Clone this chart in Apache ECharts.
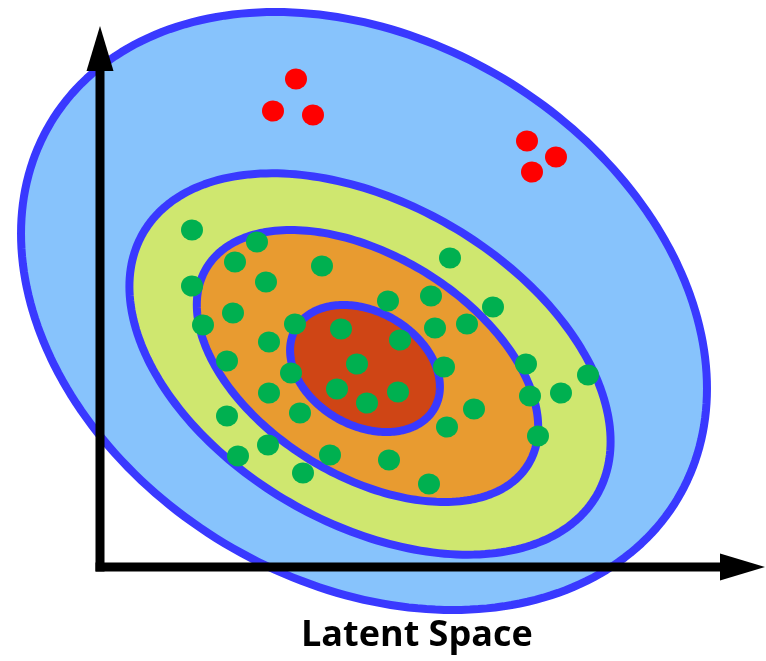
<!DOCTYPE html>
<html>
<head>
<meta charset="utf-8">
<script src="https://cdn.jsdelivr.net/npm/echarts@6/dist/echarts.min.js"></script>
<style>html,body{margin:0;padding:0;background:#fff;}#c{width:766px;height:661px;}</style>
</head>
<body>
<div id="c"></div>
<script>
// Nested density contours (latent-space coordinates, origin at the axes corner)
// outer -> inner
const contourNames = ['outer', 'second', 'third', 'inner'];
const contourCenters = [[264, 256], [270, 203], [267.5, 201], [265, 198.5]];
const contourSemiMajor = [365.5, 262, 188.5, 80];
const contourSemiMinor = [271, 160, 110, 57];
const contourTiltDeg = [-31, -30, -31.5, -30];
const contourFills = ['#87C3FC', '#CFE76F', '#E89B30', '#CF4515'];

// Points
const greenPoints = [[92,337],[157,325],[135,305],[222,301],[350,309],[92,281],[166,285],[288,266],[331,271],[393,260],[133,254],[103,242],[195,243],[241,238],[335,239],[367,243],[169,225],[300,227],[127,206],[257,203],[344,200],[191,194],[426,203],[488,192],[237,178],[169,174],[298,175],[461,174],[430,171],[267,164],[200,154],[374,158],[127,151],[347,140],[438,131],[168,122],[138,111],[230,112],[289,107],[203,94],[329,83]];
const redPoints = [[196,488],[173,456],[213,452],[427,426],[456,410],[432,395]];

// Axes arrows: [startX, startY, tipX, tipY]
const axisArrows = [[0,0,0,541],[0,0,665,0]];

const titleText = 'Latent Space';

const STROKE = '#3939FF';
const contourData = contourNames.map(function (n, i) {
  return [contourCenters[i][0], contourCenters[i][1], contourSemiMajor[i], contourSemiMinor[i], contourTiltDeg[i], i];
});

const chart = echarts.init(document.getElementById('c'), null, { renderer: 'canvas' });
chart.setOption({
  animation: false,
  backgroundColor: '#ffffff',
  title: {
    text: titleText,
    left: 296,
    top: 613,
    textStyle: { fontFamily: 'Open Sans', fontWeight: 'bold', fontSize: 36, color: '#000000' }
  },
  grid: { left: 0, right: 0, top: 0, bottom: 0 },
  xAxis: { type: 'value', min: -100, max: 666, show: false },
  yAxis: { type: 'value', min: -94, max: 567, show: false },
  series: [
    {
      type: 'custom', coordinateSystem: 'cartesian2d', data: contourData, z: 1, silent: true,
      renderItem: function (params, api) {
        const cx = api.value(0), cy = api.value(1), a = api.value(2), b = api.value(3);
        const t = api.value(4) * Math.PI / 180;
        const idx = api.value(5);
        const pts = [];
        const N = 240;
        for (let k = 0; k < N; k++) {
          const ang = 2 * Math.PI * k / N;
          const ex = a * Math.cos(ang), ey = b * Math.sin(ang);
          pts.push(api.coord([cx + ex * Math.cos(t) - ey * Math.sin(t), cy + ex * Math.sin(t) + ey * Math.cos(t)]));
        }
        return {
          type: 'polygon',
          z2: idx,
          shape: { points: pts },
          style: { fill: contourFills[idx], stroke: STROKE, lineWidth: 8, lineJoin: 'round' }
        };
      }
    },
    {
      type: 'scatter', data: greenPoints, symbol: 'circle', symbolSize: [22, 21], z: 5, silent: true,
      itemStyle: { color: '#00B050', opacity: 1 }
    },
    {
      type: 'scatter', data: redPoints, symbol: 'circle', symbolSize: [22, 21], z: 5, silent: true,
      itemStyle: { color: '#FF0000', opacity: 1 }
    },
    {
      type: 'custom', coordinateSystem: 'cartesian2d', data: axisArrows, z: 6, silent: true,
      renderItem: function (params, api) {
        const s = api.coord([api.value(0), api.value(1)]);
        const t = api.coord([api.value(2), api.value(3)]);
        const dx = t[0] - s[0], dy = t[1] - s[1];
        const len = Math.sqrt(dx * dx + dy * dy);
        const ux = dx / len, uy = dy / len;
        const headLen = 45, headHalf = 13.5;
        const bx = t[0] - ux * headLen, by = t[1] - uy * headLen;
        const nx = -uy, ny = ux;
        return {
          type: 'group',
          children: [
            {
              type: 'line',
              shape: { x1: s[0], y1: s[1], x2: bx + ux * 2, y2: by + uy * 2 },
              style: { stroke: '#000000', lineWidth: 9, lineCap: 'square' }
            },
            {
              type: 'polygon',
              shape: { points: [[t[0], t[1]], [bx + nx * headHalf, by + ny * headHalf], [bx - nx * headHalf, by - ny * headHalf]] },
              style: { fill: '#000000' }
            }
          ]
        };
      }
    }
  ]
});
</script>
</body>
</html>
